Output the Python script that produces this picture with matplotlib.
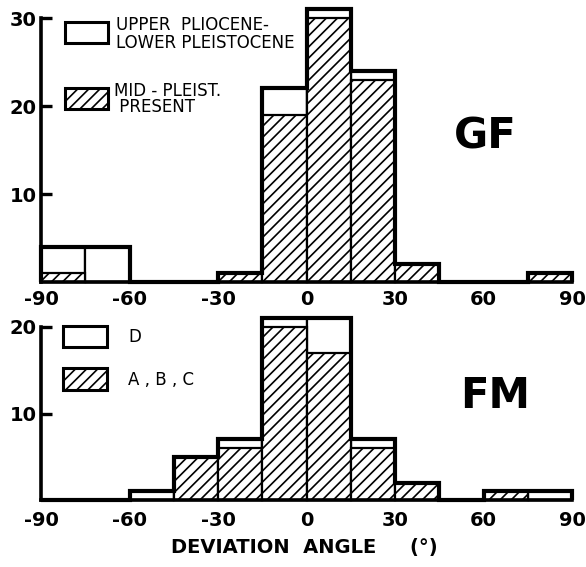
import numpy as np
import matplotlib
matplotlib.use("Agg")
import matplotlib.pyplot as plt
from matplotlib.patches import Rectangle

plt.rcParams["axes.unicode_minus"] = False
plt.rcParams["hatch.linewidth"] = 1.2
plt.rcParams["font.family"] = "DejaVu Sans"

# 15 degree bins from -90 to 90
edges = np.arange(-90, 91, 15)

# GF: totals and the hatched (mid-Pleistocene - present) part
gf_total = [4, 4, 0, 0, 1, 22, 31, 24, 2, 0, 0, 1]
gf_hatched = [1, 0, 0, 0, 1, 19, 30, 23, 2, 0, 0, 1]

# FM: totals and the hatched (A,B,C) part
fm_total = [0, 0, 1, 5, 7, 21, 21, 7, 2, 0, 1, 1]
fm_hatched = [0, 0, 0, 5, 6, 20, 17, 6, 2, 0, 1, 0]

xticks = [-90, -60, -30, 0, 30, 60, 90]

W, H = 586, 567
fig = plt.figure(figsize=(W / 100, H / 100), dpi=100)


def px(x, y):
    return x / W, 1 - y / H


def draw_panel(ax, total, hatched, ymax, yticks, pad):
    left = edges[:-1]
    ax.bar(left, total, width=15, align="edge", facecolor="white",
           edgecolor="black", linewidth=1.6, clip_on=False)
    ax.bar(left, hatched, width=15, align="edge", facecolor="white",
           edgecolor="black", hatch="///", linewidth=1.6, clip_on=False)
    ax.stairs(total, edges, color="black", linewidth=3, clip_on=False)

    ax.set_xlim(-90, 90)
    ax.set_ylim(0, ymax)
    for s in ["top", "right"]:
        ax.spines[s].set_visible(False)
    ax.spines["left"].set_linewidth(2.6)
    ax.spines["bottom"].set_linewidth(2.6)
    ax.spines["left"].set_bounds(0, yticks[-1])
    ax.set_yticks(yticks)
    ax.set_xticks(xticks)
    ax.set_xticklabels([str(v) for v in xticks])
    ax.tick_params(axis="y", direction="in", length=8, width=2.4, pad=3,
                   labelsize=14)
    ax.tick_params(axis="x", length=0, pad=pad, labelsize=14)
    for lab in ax.get_xticklabels() + ax.get_yticklabels():
        lab.set_fontweight("bold")


ax1 = fig.add_axes([41 / W, 1 - 282 / H, 531 / W, 277.2 / H])
draw_panel(ax1, gf_total, gf_hatched, 31.5, [10, 20, 30], 6)

ax2 = fig.add_axes([41 / W, 1 - 500 / H, 531 / W, 190.3 / H])
draw_panel(ax2, fm_total, fm_hatched, 22, [10, 20], 8)


def legend_box(x0, y0, x1, y1, hatch=None):
    bx, by = px(x0, y1)
    r = Rectangle((bx, by), (x1 - x0) / W, (y1 - y0) / H,
                  transform=fig.transFigure, facecolor="white",
                  edgecolor="black", linewidth=2.2, hatch=hatch)
    fig.add_artist(r)


legend_box(65, 22, 108, 43)
legend_box(65, 88, 108, 109, hatch="///")
fig.text(*px(116, 34), "UPPER  PLIOCENE-\nLOWER PLEISTOCENE", fontsize=12,
         va="center", ha="left", linespacing=0.95)
fig.text(*px(114, 99), "MID - PLEIST.\n PRESENT", fontsize=12,
         va="center", ha="left", linespacing=0.9)

legend_box(63, 326, 107, 347)
legend_box(63, 368, 107, 390, hatch="///")
fig.text(*px(128, 337), "D", fontsize=12, va="center", ha="left")
fig.text(*px(128, 380), "A , B , C", fontsize=12, va="center", ha="left")

fig.text(*px(485, 137), "GF", fontsize=30, fontweight="bold",
         ha="center", va="center")
fig.text(*px(495, 396), "FM", fontsize=30, fontweight="bold",
         ha="center", va="center")

fig.text(*px(304, 548), "DEVIATION  ANGLE     (°)", fontsize=14,
         fontweight="bold", ha="center", va="center")

fig.savefig("out.png", dpi=100)
